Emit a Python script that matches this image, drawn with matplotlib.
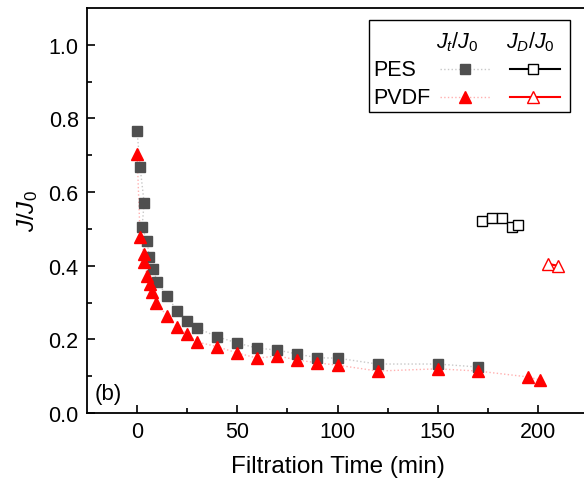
import matplotlib
matplotlib.use('Agg')
import matplotlib.pyplot as plt
from matplotlib.patches import Rectangle
from matplotlib.lines import Line2D

plt.rcParams['font.family'] = ['Liberation Sans', 'DejaVu Sans']
plt.rcParams['mathtext.fontset'] = 'custom'
plt.rcParams['mathtext.rm'] = 'Liberation Sans'
plt.rcParams['mathtext.it'] = 'Liberation Sans:italic'

# --- Data ---
pes_t = [0, 1.5, 3.5, 2.5, 5, 6, 8, 10, 15, 20, 25, 30, 40, 50, 60, 70, 80, 90, 100, 120, 150, 170]
pes_j = [0.766, 0.668, 0.571, 0.505, 0.467, 0.424, 0.391, 0.356, 0.318, 0.277, 0.250, 0.231,
         0.207, 0.190, 0.176, 0.171, 0.160, 0.150, 0.149, 0.133, 0.133, 0.125]

pvdf_t = [0, 1.5, 3.5, 3.5, 5, 6.5, 7.5, 9.5, 15, 20, 25, 30, 40, 50, 60, 70, 80, 90, 100,
          120, 150, 170, 195, 201]
pvdf_j = [0.704, 0.478, 0.432, 0.410, 0.373, 0.350, 0.328, 0.300, 0.263, 0.233, 0.214, 0.193,
          0.180, 0.163, 0.149, 0.155, 0.144, 0.136, 0.130, 0.114, 0.120, 0.114, 0.098, 0.090]

pes_d_t = [172, 177, 182, 187, 190]
pes_d_j = [0.522, 0.530, 0.530, 0.506, 0.511]
pvdf_d_t = [205, 210]
pvdf_d_j = [0.405, 0.400]

grey = '#4f4f4f'
red = '#ff0000'

fig = plt.figure(figsize=(5.84, 4.89), dpi=100)
ax = fig.add_axes([87 / 584, 1 - 414 / 489, 501 / 584, 405 / 489])
ax.patch.set_visible(False)

# Jt/J0 series (dotted connectors)
ax.plot(pes_t, pes_j, linestyle=':', color='#c8c8c8', linewidth=1, zorder=1)
ax.plot(pvdf_t, pvdf_j, linestyle=':', color='#ffb0b0', linewidth=1, zorder=1)
ax.plot(pes_t, pes_j, 's', color=grey, markersize=7, linestyle='none', zorder=3)
ax.plot(pvdf_t, pvdf_j, '^', color=red, markersize=8.5, linestyle='none', zorder=4)

# JD/J0 series (open markers, solid lines)
ax.plot(pes_d_t, pes_d_j, '-s', color='black', markerfacecolor='white', markersize=7.5,
        linewidth=1.5, zorder=3)
ax.plot(pvdf_d_t, pvdf_d_j, '-^', color=red, markerfacecolor='white', markersize=9,
        linewidth=1.5, zorder=3)

ax.set_xlim(-25, 225)
ax.set_ylim(0, 1.1)
ax.set_xticks([0, 50, 100, 150, 200])
ax.set_xticks([25, 75, 125, 175], minor=True)
ax.set_yticks([0.0, 0.2, 0.4, 0.6, 0.8, 1.0])
ax.set_yticks([0.1, 0.3, 0.5, 0.7, 0.9], minor=True)
ax.tick_params(which='major', direction='in', length=6, width=1.2, labelsize=15.5, pad=6)
ax.tick_params(which='minor', direction='in', length=3.5, width=1.2)
for s in ax.spines.values():
    s.set_linewidth(1.3)
ax.spines['right'].set_visible(False)

ax.set_xlabel('Filtration Time (min)', fontsize=17.5, labelpad=9)
ax.set_ylabel('$J/J_0$', fontsize=17.5, labelpad=6)

ax.text(-21, 0.025, '(b)', fontsize=16, ha='left', va='bottom')

# --- Custom legend box ---
def axfrac(px, py):
    return (px - 87) / 501, (414 - py) / 405

x0, y0 = axfrac(369, 113)
x1, y1 = axfrac(570, 21)
ax.add_patch(Rectangle((x0, y0), x1 - x0, y1 - y0, transform=ax.transAxes,
                       facecolor='white', edgecolor='black', linewidth=1, zorder=5))

hx, hy = axfrac(457, 42)
ax.text(hx, hy, '$J_t/J_0$', transform=ax.transAxes, fontsize=15.5, ha='center', va='center', zorder=6)
hx, hy = axfrac(530, 42)
ax.text(hx, hy, '$J_D/J_0$', transform=ax.transAxes, fontsize=15.5, ha='center', va='center', zorder=6)

rows = [('PES', 70, grey, '#c8c8c8', 's', 'black', 6.5, 7),
        ('PVDF', 98, red, '#ffb0b0', '^', red, 8, 8.5)]
for name, py, mcol, dcol, mk, dcolor, ms1, ms2 in rows:
    tx, ty = axfrac(373, py)
    ax.text(tx, ty, name, transform=ax.transAxes, fontsize=15.5, ha='left', va='center', zorder=6)
    a, yy = axfrac(440, py)
    b, _ = axfrac(490, py)
    m, _ = axfrac(465, py)
    ax.add_line(Line2D([a, b], [yy, yy], transform=ax.transAxes, linestyle=':', color=dcol,
                       linewidth=1, zorder=6))
    ax.add_line(Line2D([m], [yy], transform=ax.transAxes, marker=mk, color=mcol,
                       markersize=ms1, linestyle='none', zorder=7))
    a, _ = axfrac(510, py)
    b, _ = axfrac(560, py)
    m, _ = axfrac(533, py)
    ax.add_line(Line2D([a, b], [yy, yy], transform=ax.transAxes, color=dcolor,
                       linewidth=1.5, zorder=6))
    ax.add_line(Line2D([m], [yy], transform=ax.transAxes, marker=mk, color=dcolor,
                       markerfacecolor='white', markersize=ms2, linestyle='none', zorder=7))

fig.savefig('out.png', dpi=100)
